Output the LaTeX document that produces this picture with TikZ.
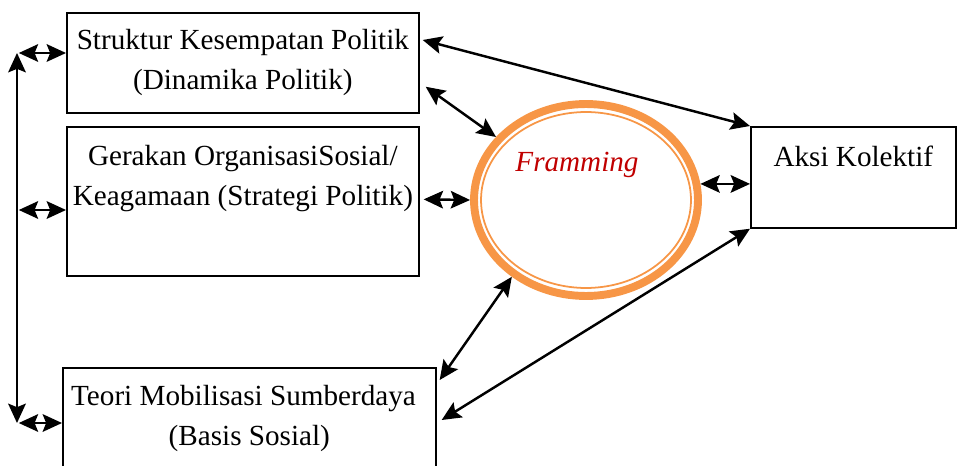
\documentclass[tikz,border=0pt]{standalone}
\usepackage{fontspec}
\setmainfont{Liberation Serif}
\usepackage{tikz}
\usetikzlibrary{calc,arrows.meta,shapes.geometric}
\definecolor{myorange}{HTML}{F79646}
\definecolor{myred}{HTML}{C00000}
\tikzset{
  kotak/.style={draw,line width=1pt,rectangle,anchor=north west,inner sep=0pt},
  isi/.style={anchor=north,align=center,inner sep=0pt},
  panah/.style={{Stealth[length=11pt,width=10pt,inset=2pt]}-{Stealth[length=11pt,width=10pt,inset=2pt]},line width=1.4pt}
}
\begin{document}
\begin{tikzpicture}[x=0.02cm,y=-0.02cm,font=\fontsize{16.6}{22.7}\selectfont]
\useasboundingbox (0,0) rectangle (957,466);

\node[kotak,minimum width=7.04cm,minimum height=2cm,align=center] (struktur) at (66,12) {Struktur Kesempatan Politik\\(Dinamika Politik)};
\node[kotak,minimum width=7.04cm,minimum height=2.98cm] (gerakan) at (66,126) {};
\node[isi] (gerakan-teks) at ([yshift=-11pt]gerakan.north) {Gerakan OrganisasiSosial/\\Keagamaan (Strategi Politik)};
\node[kotak,minimum width=7.46cm,minimum height=2.2cm] (teori) at (62,367) {};
\node[isi] (teori-teks) at ([yshift=-10pt]teori.north) {Teori Mobilisasi Sumberdaya\hspace*{0.4em}\\(Basis Sosial)};
\node[kotak,minimum width=4.1cm,minimum height=2.02cm] (aksi) at (750,126) {};
\node[isi] (aksi-teks) at ([yshift=-11pt]aksi.north) {Aksi Kolektif};

\node[ellipse,draw=myorange,line width=4.5pt,minimum width=4.48cm,minimum height=3.84cm] (framing) at (586,200) {};
\draw[myorange,line width=1pt] (framing.center) ellipse [x radius=2.1cm,y radius=1.76cm];
\node[text=myred,font=\fontsize{16.6}{20}\itshape] (framing-teks) at (577,165) {Framming};

\coordinate (kiri-atas) at (17,53);
\coordinate (kiri-tengah) at (17,210);
\coordinate (kiri-bawah) at (17,423);
\draw[panah] (kiri-atas) -- (kiri-bawah);
\foreach \k/\b in {kiri-atas/struktur,kiri-tengah/gerakan,kiri-bawah/teori}
    \draw[panah,shorten <=1pt] (\k) -- (\k -| \b.west);

\draw[panah] ($(struktur.north east)+(3,28)$) -- (aksi.north west);
\draw[panah] ($(struktur.south east)+(6,-27)$) -- (framing.145);
\draw[panah] ($(gerakan.east)+(4,-2)$) -- (framing.west);
\draw[panah] ($(teori.north east)+(3,13)$) -- (framing.226);
\draw[panah] ($(teori.north east)+(5,53)$) -- (aksi.south west);
\draw[panah] (framing.8) -- (framing.8 -| aksi.west);

\end{tikzpicture}
\end{document}
